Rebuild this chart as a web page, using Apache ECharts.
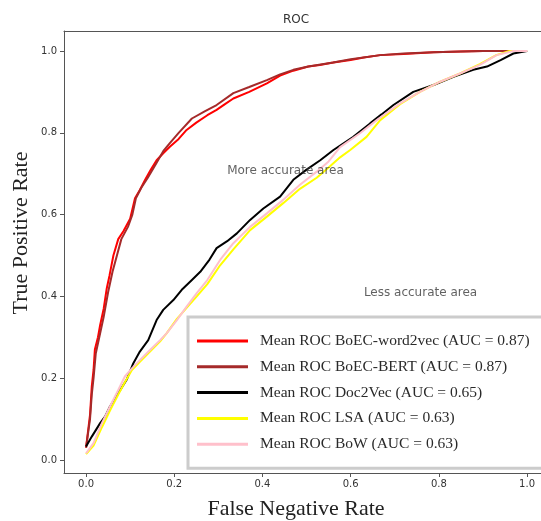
<!DOCTYPE html>
<html>
<head>
<meta charset="utf-8">
<script src="https://cdn.jsdelivr.net/npm/echarts@6/dist/echarts.min.js"></script>
<style>
html,body{margin:0;padding:0;background:#fff;}
#chart{width:541px;height:521px;}
</style>
</head>
<body>
<div id="chart"></div>
<script>
// ---- data ----
var seriesNames = [
  'Mean ROC BoEC-word2vec (AUC = 0.87)',
  'Mean ROC BoEC-BERT (AUC = 0.87)',
  'Mean ROC Doc2Vec (AUC = 0.65)',
  'Mean ROC LSA (AUC = 0.63)',
  'Mean ROC BoW (AUC = 0.63)'
];
var seriesColors = ['#ff0000', '#a52a2a', '#000000', '#ffff00', '#ffc0cb'];

var rocWord2vec = [[0,0.03],[0.009,0.11],[0.013,0.18],[0.017,0.22],[0.02,0.27],[0.027,0.3],[0.032,0.33],[0.04,0.37],[0.047,0.42],[0.053,0.45],[0.062,0.5],[0.073,0.54],[0.085,0.56],[0.1,0.59],[0.111,0.64],[0.122,0.66],[0.134,0.685],[0.147,0.71],[0.16,0.733],[0.175,0.75],[0.19,0.766],[0.21,0.785],[0.228,0.807],[0.25,0.825],[0.275,0.843],[0.296,0.856],[0.315,0.87],[0.334,0.884],[0.37,0.9],[0.41,0.921],[0.44,0.94],[0.47,0.952],[0.504,0.962],[0.53,0.966],[0.561,0.972],[0.6,0.978],[0.63,0.984],[0.667,0.99],[0.72,0.993],[0.788,0.997],[0.85,0.999],[0.9,1.0],[1.0,1.0]];

var rocBert = [[0,0.03],[0.009,0.1],[0.013,0.16],[0.017,0.2],[0.022,0.26],[0.03,0.3],[0.04,0.35],[0.05,0.41],[0.06,0.46],[0.07,0.5],[0.08,0.54],[0.095,0.57],[0.105,0.6],[0.113,0.64],[0.125,0.665],[0.14,0.69],[0.16,0.727],[0.175,0.755],[0.19,0.775],[0.21,0.8],[0.24,0.835],[0.27,0.853],[0.296,0.868],[0.334,0.897],[0.37,0.912],[0.41,0.929],[0.44,0.943],[0.47,0.954],[0.504,0.962],[0.56,0.972],[0.6,0.98],[0.667,0.99],[0.72,0.994],[0.788,0.997],[0.85,0.999],[0.9,1.0],[1.0,1.0]];

var rocDoc2vec = [[0,0.033],[0.013,0.057],[0.032,0.09],[0.043,0.106],[0.054,0.13],[0.073,0.163],[0.092,0.196],[0.107,0.236],[0.122,0.265],[0.141,0.293],[0.16,0.342],[0.175,0.367],[0.198,0.391],[0.217,0.416],[0.24,0.44],[0.259,0.46],[0.28,0.49],[0.296,0.518],[0.32,0.535],[0.342,0.554],[0.372,0.587],[0.402,0.615],[0.44,0.644],[0.47,0.685],[0.5,0.71],[0.531,0.733],[0.561,0.758],[0.606,0.79],[0.644,0.823],[0.67,0.845],[0.697,0.868],[0.742,0.9],[0.788,0.917],[0.833,0.937],[0.878,0.954],[0.909,0.962],[0.94,0.978],[0.969,0.994],[1.0,1.0]];

var rocLsa = [[0,0.014],[0.017,0.035],[0.036,0.08],[0.054,0.12],[0.073,0.16],[0.088,0.19],[0.104,0.22],[0.122,0.24],[0.145,0.265],[0.168,0.29],[0.183,0.31],[0.206,0.345],[0.228,0.372],[0.251,0.4],[0.275,0.43],[0.304,0.476],[0.334,0.515],[0.372,0.562],[0.41,0.595],[0.447,0.628],[0.485,0.663],[0.523,0.69],[0.55,0.715],[0.576,0.74],[0.599,0.758],[0.636,0.79],[0.667,0.831],[0.712,0.87],[0.757,0.9],[0.803,0.925],[0.848,0.945],[0.893,0.968],[0.93,0.99],[0.96,1.0],[1.0,1.0]];

var rocBow = [[0,0.016],[0.017,0.041],[0.036,0.09],[0.054,0.13],[0.073,0.171],[0.088,0.204],[0.104,0.224],[0.122,0.244],[0.145,0.269],[0.168,0.293],[0.183,0.31],[0.206,0.342],[0.228,0.375],[0.251,0.408],[0.275,0.44],[0.304,0.489],[0.334,0.53],[0.372,0.57],[0.41,0.603],[0.447,0.636],[0.485,0.673],[0.523,0.705],[0.55,0.73],[0.576,0.765],[0.621,0.799],[0.659,0.831],[0.712,0.872],[0.757,0.9],[0.803,0.925],[0.848,0.945],[0.893,0.966],[0.931,0.99],[0.969,1.0],[1.0,1.0]];

var tickValues = [0, 0.2, 0.4, 0.6, 0.8, 1.0];
var annotations = [
  {text: 'More accurate area', pos: [0.32, 0.70]},
  {text: 'Less accurate area', pos: [0.63, 0.40]}
];
var chartTitle = 'ROC';
var xTitle = 'False Negative Rate';
var yTitle = 'True Positive Rate';

// ---- chart ----
var chart = echarts.init(document.getElementById('chart'), null, {renderer: 'canvas'});
var curves = [rocWord2vec, rocBert, rocDoc2vec, rocLsa, rocBow];

var series = curves.map(function (d, i) {
  return {
    name: seriesNames[i],
    type: 'line',
    xAxisIndex: 0,
    yAxisIndex: 0,
    data: d,
    symbol: 'none',
    smooth: false,
    color: seriesColors[i],
    lineStyle: {width: 2, color: seriesColors[i]},
    z: 2 + i
  };
});
series.push({
  type: 'scatter',
  xAxisIndex: 0,
  yAxisIndex: 0,
  symbolSize: 0,
  silent: true,
  z: 10,
  data: annotations.map(function (a) { return {value: a.pos, name: a.text}; }),
  label: {
    show: true,
    position: [0, 0],
    offset: [0, 3],
    align: 'left',
    verticalAlign: 'bottom',
    formatter: function (p) { return p.name; },
    fontFamily: 'DejaVu Sans',
    fontSize: 12,
    color: '#3a3a3a'
  }
});

var XMIN = -0.05, XMAX = 1.0316, YMIN = -0.032, YMAX = 1.049;

function mainAxis(extra) {
  return Object.assign({
    type: 'value',
    splitLine: {show: false},
    axisLine: {show: true, onZero: false, lineStyle: {color: '#555', width: 1}},
    axisTick: {show: true, length: 4, inside: false, customValues: tickValues, lineStyle: {color: '#555'}},
    axisLabel: {
      customValues: tickValues,
      formatter: function (v) { return Number(v).toFixed(1); },
      fontFamily: 'DejaVu Sans', fontSize: 10, color: '#333'
    }
  }, extra);
}

var option = {
  animation: false,
  backgroundColor: '#fff',
  title: {
    text: chartTitle,
    left: 278, top: 9,
    textStyle: {fontFamily: 'DejaVu Sans', fontSize: 12, fontWeight: 'normal', color: '#333'}
  },
  grid: {
    left: 64, top: 31, right: 0, height: 442,
    show: false
  },
  xAxis: [
    mainAxis({min: XMIN, max: XMAX, position: 'bottom',
      axisLabel: {customValues: tickValues, formatter: function (v) { return Number(v).toFixed(1); },
        fontFamily: 'DejaVu Sans', fontSize: 10, color: '#333', margin: 6}}),
    {type: 'value', min: XMIN, max: XMAX, position: 'top', gridIndex: 0,
      splitLine: {show: false}, axisTick: {show: false}, axisLabel: {show: false},
      axisLine: {show: true, onZero: false, lineStyle: {color: '#555', width: 1}}}
  ],
  yAxis: mainAxis({min: YMIN, max: YMAX,
    axisLabel: {customValues: tickValues, formatter: function (v) { return Number(v).toFixed(1); },
      fontFamily: 'DejaVu Sans', fontSize: 10, color: '#333', margin: 7}}),
  legend: {
    orient: 'vertical',
    left: 188, top: 317,
    padding: [16, 120, 16, 9],
    itemWidth: 51, itemHeight: 3, itemGap: 9.8,
    icon: 'rect',
    borderColor: '#cccccc', borderWidth: 3,
    backgroundColor: '#fff',
    data: seriesNames,
    textStyle: {fontFamily: 'Liberation Serif', fontSize: 15.5, color: '#2a2a2a', lineHeight: 16, padding: [0, 0, 0, 7]}
  },
  graphic: [
    {type: 'text', x: 296, y: 509, style: {text: xTitle, font: '22px "Liberation Serif"', fill: '#222', align: 'center', verticalAlign: 'middle'}},
    {type: 'text', x: 21, y: 233, rotation: Math.PI / 2, style: {text: yTitle, font: '22px "Liberation Serif"', fill: '#222', align: 'center', verticalAlign: 'middle'}}
  ],
  series: series
};
chart.setOption(option);
</script>
</body>
</html>
